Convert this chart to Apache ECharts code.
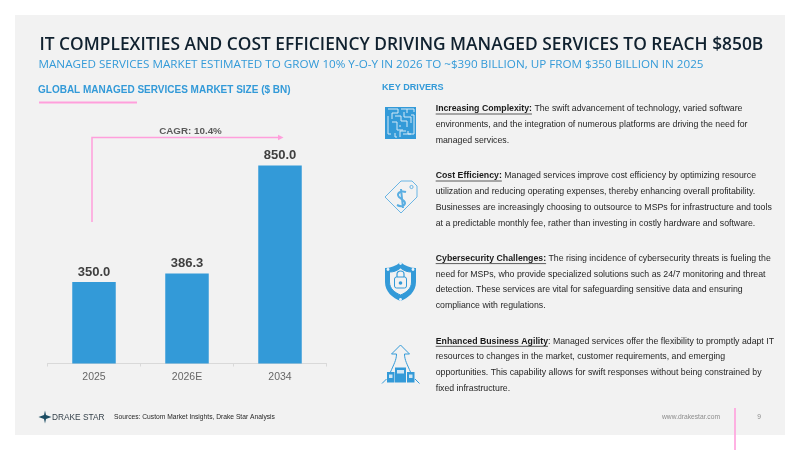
<!DOCTYPE html>
<html>
<head>
<meta charset="utf-8">
<style>html,body{margin:0;padding:0;background:#fff}#chart{width:800px;height:450px}</style>
<script src="https://cdn.jsdelivr.net/npm/echarts@6/dist/echarts.min.js"></script>
</head>
<body>
<div id="chart"></div>
<script>
// Market size series
const categories = ['2025', '2026E', '2034'];
const marketSize = [350.0, 386.3, 850.0];

const pageTitle = 'IT COMPLEXITIES AND COST EFFICIENCY DRIVING MANAGED SERVICES TO REACH $850B';
const pageSubtitle = 'MANAGED SERVICES MARKET ESTIMATED TO GROW 10% Y-O-Y IN 2026 TO ~$390 BILLION, UP FROM $350 BILLION IN 2025';
const chartHeading = 'GLOBAL MANAGED SERVICES MARKET SIZE ($ BN)';
const driversHeading = 'KEY DRIVERS';
const cagrLabel = 'CAGR: 10.4%';
const sourceNote = 'Sources: Custom Market Insights, Drake Star Analysis';

// Each driver: bold lead-in, remainder of first line, following lines
const drivers = [
  { lead: 'Increasing Complexity:', first: ' The swift advancement of technology, varied software',
    rest: ['environments, and the integration of numerous platforms are driving the need for', 'managed services.'] },
  { lead: 'Cost Efficiency:', first: ' Managed services improve cost efficiency by optimizing resource',
    rest: ['utilization and reducing operating expenses, thereby enhancing overall profitability.',
           'Businesses are increasingly choosing to outsource to MSPs for infrastructure and tools',
           'at a predictable monthly fee, rather than investing in costly hardware and software.'] },
  { lead: 'Cybersecurity Challenges:', first: ' The rising incidence of cybersecurity threats is fueling the',
    rest: ['need for MSPs, who provide specialized solutions such as 24/7 monitoring and threat',
           'detection. These services are vital for safeguarding sensitive data and ensuring',
           'compliance with regulations.'] },
  { lead: 'Enhanced Business Agility', first: ': Managed services offer the flexibility to promptly adapt IT',
    rest: ['resources to changes in the market, customer requirements, and emerging',
           'opportunities. This capability allows for swift responses without being constrained by',
           'fixed infrastructure.'] }
];
const driverTops = [109, 176, 258.6, 341.3];
const lineStep = 15.7;

const BLUE = '#339ad8', PINK = '#ff9fdc', SANS = '"Liberation Sans", Arial, sans-serif', HEAD = '"Open Sans", "Noto Sans", sans-serif';

function label(x, y, text, font, fill, align) {
  return { type: 'text', x: x, y: y, silent: true,
    style: { text: text, font: font, fill: fill, align: align || 'left', verticalAlign: 'middle' } };
}
function rule(x1, y1, x2, y2, color, width) {
  return { type: 'line', silent: true, shape: { x1: x1, y1: y1, x2: x2, y2: y2 },
    style: { stroke: color, lineWidth: width } };
}

// Vector glyphs are registered as shapes and placed by translation and scale
let glyphCount = 0;
function glyph(d, x, y, style, sx, sy) {
  const name = 'iconGlyph' + (glyphCount++);
  echarts.graphic.registerShape(name, echarts.graphic.extendPath(d, {}));
  return { type: name, silent: true, x: x, y: y, scaleX: sx || 1, scaleY: sy || sx || 1,
    style: Object.assign({ strokeNoScale: true }, style) };
}

const measure = document.createElement('canvas').getContext('2d');
const bodyFont = '8.75px ' + SANS, leadFont = 'bold 8.75px ' + SANS;

function driverText() {
  const out = [];
  drivers.forEach(function (d, i) {
    const y = driverTops[i], x = 435.7;
    measure.font = leadFont;
    const w = measure.measureText(d.lead).width;
    out.push(label(x, y, d.lead, leadFont, '#1a1a1a'));
    out.push(rule(x, y + 5, x + w, y + 5, '#333333', 0.8));
    out.push(label(x + w, y, d.first, bodyFont, '#262626'));
    d.rest.forEach(function (line, j) {
      out.push(label(x, y + (j + 1) * lineStep, line, bodyFont, '#262626'));
    });
  });
  return out;
}

// Driver icons
function icons() {
  const lightLine = { fill: 'none', stroke: '#d5e9f6', lineWidth: 1 };
  const outline = { fill: 'none', stroke: '#5aaee2', lineWidth: 0.9 };
  const out = [];
  // Maze
  out.push({ type: 'rect', silent: true, shape: { x: 385, y: 107, width: 31, height: 32 }, style: { fill: BLUE } });
  out.push(glyph('M3 2H13V6H7V12M16 2H29V5M19 5V10H26V16M10 9H16V14H22V20M3 9V27H6M7 15H12V23H18M26 8H29V27H23V24M15 18V20M21 24H15V30M10 26V30H12M18 27H26M22 2V6',
    385, 107, lightLine));
  // Price tag
  out.push(glyph('M0 16L16 0H27L32 5V16L16 32Z', 385, 181, outline));
  out.push({ type: 'circle', silent: true, shape: { cx: 411.5, cy: 187, r: 1.6 }, style: outline });
  out.push(glyph('M10 1C4 -1 0 3 3 6L8 10C11 13 7 17 1 14M5 -2L7 17', 396, 191, { fill: 'none', stroke: '#5aaee2', lineWidth: 2 }));
  // Shield with padlock
  out.push(glyph('M15.5 0C20 4 26 6 31 6V20C31 30 23 36 15.5 39C8 36 0 30 0 20V6C5 6 11 4 15.5 0Z', 385, 262, { fill: BLUE }));
  out.push(glyph('M11 1C15 4 18 5 22 5V15C22 22 16 26 11 28C6 26 0 22 0 15V5C4 5 7 4 11 1Z', 389.5, 267, { fill: '#f2f2f2', stroke: BLUE, lineWidth: 1 }));
  out.push({ type: 'rect', silent: true, shape: { x: 394.5, y: 277, width: 12, height: 11, r: 2 }, style: { fill: '#f2f2f2', stroke: BLUE, lineWidth: 1 } });
  out.push(glyph('M0 7V4C0 0 7 0 7 4V7', 397, 270, { fill: 'none', stroke: BLUE, lineWidth: 1.2 }));
  out.push({ type: 'circle', silent: true, shape: { cx: 400.5, cy: 283, r: 1.8 }, style: { fill: BLUE } });
  [[400.5, 263.5], [388, 269.5], [413, 269.5], [400.5, 299.5]].forEach(function (c) {
    out.push({ type: 'circle', silent: true, shape: { cx: c[0], cy: c[1], r: 1.4 }, style: { fill: '#e8f3fb' } });
  });
  // Upward arrow over buildings
  out.push(glyph('M17 0L8 9H13C13 15 10 20 7 27M17 0L26 9H21C21 15 24 20 27 27', 383.5, 345, { fill: 'none', stroke: BLUE, lineWidth: 1 }));
  out.push(rule(382, 383.5, 386.5, 379, BLUE, 1));
  out.push(rule(419.5, 383.5, 415, 379, BLUE, 1));
  [[387, 372, 7.5, 10.5], [407, 372, 7.5, 10.5], [395, 367.5, 11, 15]].forEach(function (b) {
    out.push({ type: 'rect', silent: true, shape: { x: b[0], y: b[1], width: b[2], height: b[3] }, style: { fill: BLUE } });
    out.push({ type: 'rect', silent: true, shape: { x: b[0] + 2, y: b[1] + 2.5, width: b[2] - 4, height: 3.5 }, style: { fill: '#cfe6f5' } });
  });
  return out;
}

const chart = echarts.init(document.getElementById('chart'), null, { renderer: 'canvas' });
chart.setOption({
  animation: false,
  backgroundColor: '#ffffff',
  grid: { left: 47.5, width: 279, top: 165.5, height: 198 },
  xAxis: {
    type: 'category', data: categories,
    axisLine: { lineStyle: { color: '#d9d9d9', width: 1 } },
    axisTick: { show: true, length: 3, lineStyle: { color: '#d9d9d9' } },
    axisLabel: { color: '#666666', fontFamily: SANS, fontSize: 10.5, margin: 8 }
  },
  yAxis: { type: 'value', min: 0, max: 850, show: false, splitLine: { show: false } },
  series: [{
    type: 'bar', data: marketSize, barWidth: 43.5,
    itemStyle: { color: BLUE },
    label: { show: true, position: 'top', distance: 3.5, color: '#404040',
      fontFamily: SANS, fontWeight: 'bold', fontSize: 13, formatter: function (p) { return p.value.toFixed(1); } }
  }],
  graphic: { elements: [
    { type: 'rect', silent: true, z: -10, shape: { x: 15, y: 15, width: 770, height: 420 }, style: { fill: '#f2f2f2' } },
    label(39.5, 45.5, pageTitle, '600 17.36px ' + HEAD, '#10212f'),
    label(38.5, 64.3, pageSubtitle, '11.67px ' + HEAD, BLUE),
    label(38, 90, chartHeading, 'bold 10px ' + SANS, BLUE),
    rule(39, 102.5, 137, 102.5, PINK, 1.8),
    label(382, 87, driversHeading, 'bold 9.1px ' + SANS, BLUE),
    label(190.5, 130.8, cagrLabel, 'bold 9.8px ' + SANS, '#595959', 'center'),
    { type: 'polyline', silent: true, shape: { points: [[92, 222], [92, 137.5], [279, 137.5]] },
      style: { fill: 'none', stroke: PINK, lineWidth: 1.5 } },
    { type: 'polygon', silent: true, shape: { points: [[278, 134.8], [283.5, 137.5], [278, 140.2]] }, style: { fill: PINK } },
    rule(735, 408, 735, 450, PINK, 1.6),
    label(691, 417, 'www.drakestar.com', '6.7px ' + SANS, '#8c8c8c', 'center'),
    label(759, 417, '9', '6.7px ' + SANS, '#8c8c8c', 'center'),
    label(114, 417.5, sourceNote, '6.7px ' + SANS, '#262626'),
    label(52, 417.5, 'DRAKE STAR', '8.3px ' + SANS, '#333f48'),
    glyph('M6.5 0L7.5 4.5L13 6.5L7.5 8.5L6.5 13L5.5 8.5L0 6.5L5.5 4.5Z', 38.5, 410.5, { fill: '#1d4d63' })
  ].concat(driverText(), icons()) }
});
</script>
</body>
</html>
